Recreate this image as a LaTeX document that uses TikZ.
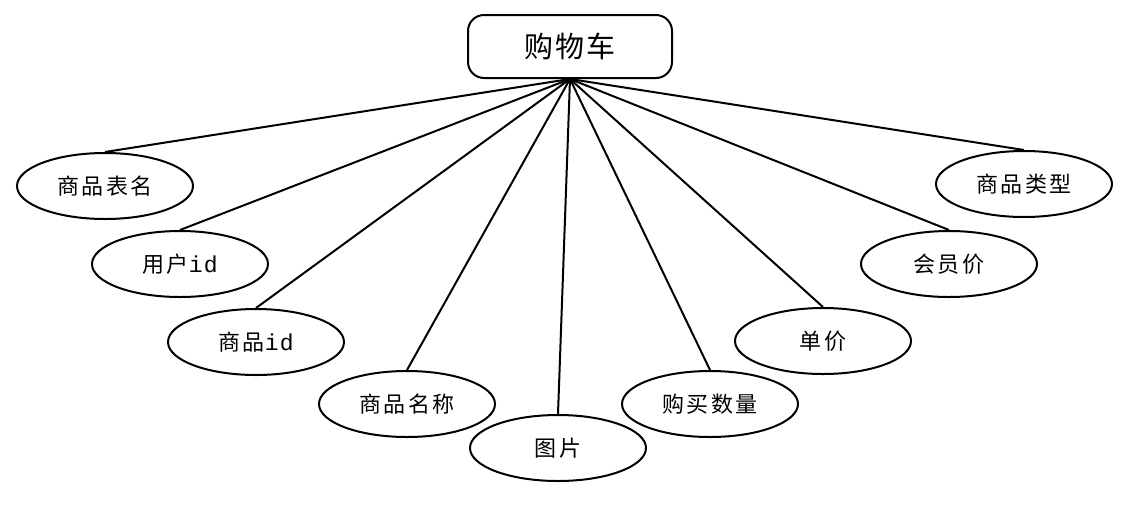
\documentclass[tikz,border=0pt]{standalone}
\usepackage{fontspec}
\setmainfont{Noto Sans CJK SC}[LetterSpace=6]
\newfontfamily\attrfont{Noto Sans CJK SC}[LetterSpace=12]
\newfontfamily\latinmono{Liberation Mono}[LetterSpace=6]
\usetikzlibrary{shapes.geometric}
\begin{document}
\begin{tikzpicture}[x=1pt,y=-1pt,
  attr/.style={ellipse,draw,line width=2pt,minimum width=176pt,minimum height=66pt,inner sep=0pt,font=\attrfont\fontsize{22}{26}\selectfont},
  link/.style={line width=2pt}]
\useasboundingbox (0,0) rectangle (1143,507);
\node[draw,rounded corners=16pt,line width=2pt,minimum width=204pt,minimum height=63pt,inner sep=0pt,font=\fontsize{29}{33}\selectfont] (cart) at (570,46.5) {购物车};
\node[attr] (a1) at (105,186) {商品表名};
\node[attr] (a2) at (180,264) {用户{\latinmono\fontsize{23}{26}\selectfont id}};
\node[attr] (a3) at (256,342) {商品{\latinmono\fontsize{23}{26}\selectfont id}};
\node[attr] (a4) at (407,404) {商品名称};
\node[attr] (a5) at (558,448) {图片};
\node[attr] (a6) at (710,404) {购买数量};
\node[attr] (a7) at (823,341) {单价};
\node[attr] (a8) at (949,264) {会员价};
\node[attr] (a9) at (1024,184) {商品类型};
\foreach \n in {a1,a2,a3,a4,a5,a6,a7,a8,a9}
  \draw[link] (cart.south) -- (\n.north);
\end{tikzpicture}
\end{document}
